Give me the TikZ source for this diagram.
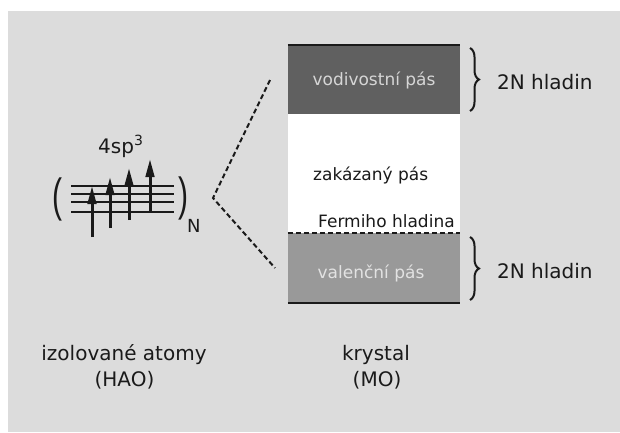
\documentclass[tikz,border=0pt]{standalone}
\usepackage{fontspec}
\usepackage{graphicx}
\setmainfont{DejaVu Sans}
\newfontfamily\parenfont{Liberation Sans}
\usetikzlibrary{arrows.meta,decorations.pathreplacing}
\definecolor{bggray}{HTML}{DCDCDC}
\definecolor{darkband}{HTML}{606060}
\definecolor{lightband}{HTML}{999999}
\definecolor{darktxt}{HTML}{D6D6D6}
\definecolor{lighttxt}{HTML}{E2E2E2}
\definecolor{ink}{HTML}{1A1A1A}
\tikzset{
  big/.style={font=\fontsize{20}{24}\selectfont, text=ink, inner sep=0pt},
  small/.style={font=\fontsize{17}{20}\selectfont, text=ink, inner sep=0pt},
  band/.style={draw=none, minimum width=172pt, inner sep=0pt, font=\fontsize{17}{20}\selectfont},
  level/.style={line width=2pt, ink},
  spin/.style={line width=3pt, ink, -{Triangle[length=18pt,width=8.5pt]}},
  brc/.style={decorate, decoration={brace, amplitude=9pt}, line width=2pt, ink},
  paren/.style={font=\parenfont\fontsize{30}{34}\selectfont, text=ink, inner sep=0pt},
  dashy/.style={line width=2pt, ink, dash pattern=on 5pt off 3pt},
}
\begin{document}
\begin{tikzpicture}[x=1pt,y=1pt]
\useasboundingbox (0,0) rectangle (620,-432);
\fill[white] (0,0) rectangle (620,-432);
\fill[bggray] (8,-11) rectangle (620,-432);
% bands
\node[band, fill=darkband, minimum height=69pt, text=darktxt] (cond) at (374,-79.5) {};
\node[band, fill=white, minimum height=119pt] (gap) at (374,-173.5) {};
\node[band, fill=lightband, minimum height=70pt, text=lighttxt] (val) at (374,-268) {};
\draw[line width=1.5pt, ink] (cond.north west) -- (cond.north east);
\draw[line width=1.5pt, ink] (val.south west) -- (val.south east);
\draw[dashy, line width=1.8pt] (val.north west) -- (val.north east);
\node[small, text=darktxt, anchor=base] (condt) at (374,-85) {vodivostní pás};
\node[small, text=lighttxt, anchor=base] (valt) at (371,-278) {valenční pás};
\node[small, anchor=base west] (gapt) at (313,-180) {zakázaný pás};
\node[small, anchor=base west] (fermi) at (318,-227) {Fermiho hladina};
% braces
\coordinate (b1t) at (470,-48);
\coordinate (b1b) at (470,-111);
\coordinate (b2t) at (470,-237);
\coordinate (b2b) at (470,-300);
\draw[brc] (b1t) -- (b1b);
\draw[brc] (b2t) -- (b2b);
\node[big, anchor=base west] (h1) at (497,-89) {2N hladin};
\node[big, anchor=base west] (h2) at (497,-278) {2N hladin};
% dashed connectors
\coordinate (v) at (213,-198);
\coordinate (ct) at (270,-80);
\coordinate (cb) at (275,-268);
\draw[dashy] (ct) -- (v) -- (cb);
% atom levels
\foreach \y in {186,194,202,212} \draw[level] (71,-\y) -- (174,-\y);
\draw[spin] (92,-237) -- (92,-186);
\draw[spin] (110,-228) -- (110,-177);
\draw[spin] (129,-220) -- (129,-168);
\draw[spin] (150,-212) -- (150,-159);
\node[paren] (lp) at (57,-199) {\scalebox{1}[1.55]{(}};
\node[paren] (rp) at (183,-198) {\scalebox{1}[1.55]{)}};
\node[font=\fontsize{18}{20}\selectfont, text=ink, inner sep=0pt, anchor=base west] (nn) at (187,-232) {N};
\node[big, anchor=base west] (orb) at (98,-153) {4sp\textsuperscript{3}};
% captions
\node[big, anchor=base] (iz) at (124,-360) {izolované atomy};
\node[big, anchor=base] (hao) at (124.5,-386) {(HAO)};
\node[big, anchor=base] (kr) at (376,-360) {krystal};
\node[big, anchor=base] (mo) at (377,-386) {(MO)};
\end{tikzpicture}
\end{document}
